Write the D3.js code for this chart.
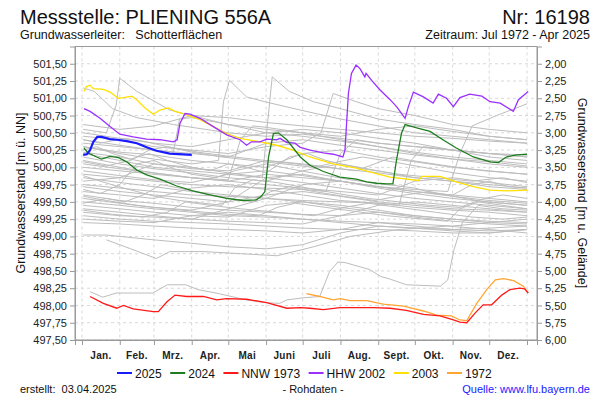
<!DOCTYPE html>
<html><head><meta charset="utf-8">
<script src="https://cdn.jsdelivr.net/npm/d3@7"></script>
<style>body{margin:0;background:#fff} svg{font-family:"Liberation Sans",Arial,sans-serif}</style>
</head><body><svg id="c" width="600" height="400"></svg>
<script>
// ---------- DATA ----------
const monthLabels = ["Jan.","Feb.","Mrz.","Apr.","Mai","Juni","Juli","Aug.","Sept.","Okt.","Nov.","Dez."];
const monthStartDays = [0,31,59,90,120,151,181,212,243,273,304,334,365];
const leftTicks = [497.5,497.75,498,498.25,498.5,498.75,499,499.25,499.5,499.75,500,500.25,500.5,500.75,501,501.25,501.5];
const rightTicks = [2,2.25,2.5,2.75,3,3.25,3.5,3.75,4,4.25,4.5,4.75,5,5.25,5.5,5.75,6];
const groundLevel = 503.5;

const days2025 = [1,4,6.6,9.3,12.5,16,23,28.5,36.7,45,53,61,72,90];
const values2025 = [500.18,500.19,500.25,500.37,500.44,500.44,500.41,500.40,500.38,500.35,500.29,500.24,500.20,500.18];

const days2024 = [1.6,5,12,16,23,30,36.7,45,53,64,77.7,91,105,118.7,132,143,147,150,153,157,161,168,179,187,198,211.6,225,233.5,241.7,250,255,258,262,265,274.6,285.5,296,307,321,335,341.5,348,356.6,365];
const values2024 = [500.28,500.21,500.15,500.12,500.16,500.14,500.08,499.96,499.89,499.83,499.73,499.66,499.60,499.55,499.52,499.53,499.58,499.65,500.15,500.49,500.50,500.40,500.15,500.03,499.94,499.86,499.83,499.79,499.77,499.76,499.76,500.11,500.49,500.62,500.57,500.52,500.40,500.28,500.15,500.08,500.07,500.15,500.18,500.19];

const days1973 = [6.6,17.5,28.5,34,42,58.5,62.6,69.5,76.3,85.9,99.5,110.5,118.7,135,151.5,168,179,187,198,211.6,225,239,252.7,266,280,293.7,304.6,310,315.6,322.4,329,336,344.3,351,359,363,366];
const values1973 = [498.13,498.03,497.96,498.00,497.95,497.91,497.91,498.05,498.15,498.13,498.13,498.08,498.10,498.09,498.04,497.96,497.97,497.96,497.94,497.97,497.97,497.97,497.96,497.93,497.87,497.85,497.79,497.76,497.75,497.89,498.01,498.01,498.15,498.23,498.25,498.24,498.18];

const days2002 = [1.6,6.6,14.8,23,31,42,53,64,75,78,80.4,84.5,88.6,96.8,107.7,118.7,129.6,135,139,146,151.5,159.7,162.4,168,174.7,179,187,198,206,214,215.7,218.5,221,224.8,228,232,233,237.6,244.5,252.7,258,265,267.7,271.8,280,288,292.3,299,304.6,310,318,328,334.7,343,353.8,358,366];
const values2002 = [500.85,500.81,500.71,500.59,500.48,500.44,500.41,500.40,500.37,500.40,500.64,500.78,500.77,500.71,500.59,500.47,500.40,500.32,500.37,500.37,500.41,500.40,500.42,500.36,500.35,500.29,500.25,500.21,500.19,500.15,500.25,501.07,501.36,501.48,501.43,501.31,501.36,501.26,501.12,500.98,500.88,500.71,500.88,501.09,501.02,500.93,501.06,501.00,500.88,501.01,501.06,501.03,500.95,500.93,500.81,500.98,501.10];

const days2003 = [1.6,3.8,6.6,9.3,17.5,23,29.8,33.9,40.8,44.9,51.7,58.5,64,70.8,76.3,85.9,96.8,107.7,118.7,129.6,146,159.7,173,187,206,225,239,252.7,276,278.7,293.7,307,321,334.7,348,366];
const values2003 = [501.10,501.17,501.19,501.14,501.13,501.09,501.00,501.01,501.03,500.98,500.86,500.77,500.83,500.86,500.81,500.76,500.69,500.59,500.49,500.42,500.37,500.32,500.25,500.15,500.05,499.99,499.92,499.86,499.81,499.87,499.87,499.79,499.72,499.67,499.66,499.67];

const days1972 = [184,195,206,211.6,220,233.5,247,263.6,280,291,303,310,315.6,323.8,332,339,345.6,354,362,366];
const values1972 = [498.17,498.13,498.08,498.10,498.07,498.07,498.02,497.99,497.92,497.86,497.85,497.79,497.78,498.03,498.23,498.37,498.39,498.36,498.28,498.18];

// historic years (grey), [day, value] pairs
const historicYears = [
 [[1,501.15],[10,501.1],[25,500.85],[45,500.72],[75,500.62],[120,500.5],[151,500.45],[181,500.48],[212,500.42],[243,500.35],[273,500.3],[304,500.25],[334,500.2],[365,500.15]],
 [[1,500.55],[20,500.5],[28,500.9],[31,501.29],[45,501.1],[72,500.83],[90,500.75],[120,500.62],[151,500.5],[181,500.55],[212,500.5],[243,500.42],[273,500.35],[304,500.25],[334,500.15],[365,500.1]],
 [[1,500.3],[31,500.2],[59,500.12],[90,500.05],[112,500.1],[116,500.95],[121,501.26],[135,501.02],[150,500.95],[179,500.83],[212,500.7],[243,500.6],[273,500.5],[304,500.45],[334,500.4],[365,500.35]],
 [[1,500.2],[31,500.1],[59,500.0],[90,499.95],[120,499.9],[148,499.85],[152,500.6],[156,501.31],[170,501.1],[190,500.95],[212,500.85],[243,500.7],[273,500.62],[304,500.55],[334,500.45],[365,500.4]],
 [[1,500.45],[31,500.4],[59,500.3],[90,500.25],[120,500.2],[151,500.3],[181,500.35],[196,500.5],[206,501.07],[225,500.95],[243,500.85],[273,500.75],[304,500.62],[334,500.55],[365,500.5]],
 [[1,500.1],[31,500.0],[59,499.92],[90,499.85],[120,499.8],[151,499.9],[181,499.85],[212,499.8],[243,499.72],[273,499.68],[300,499.65],[310,500.2],[320,500.6],[340,500.75],[365,500.92]],
 [[1,500.62],[31,500.55],[59,500.6],[90,500.75],[120,500.72],[151,500.65],[181,500.6],[212,500.55],[243,500.5],[273,500.45],[304,500.42],[334,500.38],[365,500.35]],
 [[1,500.35],[31,500.3],[59,500.25],[75,500.22],[80,500.7],[90,500.72],[120,500.62],[151,500.55],[181,500.5],[212,500.45],[243,500.55],[273,500.6],[304,500.52],[334,500.45],[365,500.4]],
 [[1,500.0],[31,499.95],[59,499.9],[90,499.85],[120,499.82],[130,500.4],[140,500.6],[151,500.58],[181,500.5],[212,500.4],[243,500.3],[273,500.2],[304,500.12],[334,500.05],[365,500.0]],
 [[1,499.9],[31,499.85],[59,499.8],[90,499.75],[120,499.72],[151,499.7],[181,499.68],[200,499.65],[212,500.2],[225,500.4],[243,500.35],[273,500.3],[304,500.25],[334,500.2],[365,500.15]],
 [[1,499.75],[31,499.7],[59,499.65],[90,499.6],[120,499.58],[151,499.55],[181,499.52],[212,499.5],[243,499.48],[260,499.45],[270,500.1],[280,500.3],[304,500.25],[334,500.2],[365,500.18]],
 [[1,500.5],[31,500.42],[59,500.35],[90,500.3],[120,500.4],[151,500.5],[181,500.45],[212,500.38],[243,500.3],[273,500.22],[304,500.15],[334,500.1],[365,500.05]],
 [[1,500.4],[31,500.32],[59,500.25],[90,500.2],[120,500.15],[151,500.35],[181,500.4],[212,500.32],[243,500.25],[273,500.18],[304,500.12],[334,500.08],[365,500.02]],
 [[1,500.3],[31,500.22],[59,500.18],[90,500.1],[120,500.05],[151,500.0],[181,500.2],[212,500.25],[243,500.15],[273,500.08],[304,500.0],[334,499.95],[365,499.9]],
 [[1,500.22],[31,500.15],[59,500.05],[90,499.98],[120,499.95],[151,500.1],[181,500.05],[212,499.98],[243,499.92],[273,499.85],[304,499.8],[334,499.75],[365,499.7]],
 [[1,500.15],[31,500.05],[59,499.98],[90,499.92],[120,499.85],[151,499.8],[181,499.95],[212,500.05],[243,499.95],[273,499.85],[304,499.8],[334,499.72],[365,499.68]],
 [[1,500.05],[31,499.98],[59,499.92],[90,499.85],[120,499.8],[151,499.75],[181,499.7],[212,499.65],[243,499.6],[273,499.8],[304,499.85],[334,499.78],[365,499.72]],
 [[1,499.95],[31,499.88],[59,499.82],[90,499.78],[120,499.9],[151,499.95],[181,499.88],[212,499.8],[243,499.72],[273,499.65],[304,499.6],[334,499.55],[365,499.5]],
 [[1,499.85],[31,499.78],[59,499.72],[90,499.65],[120,499.6],[151,499.55],[181,499.75],[212,499.8],[243,499.72],[273,499.65],[304,499.58],[334,499.52],[365,499.48]],
 [[1,499.8],[31,499.85],[59,500.05],[90,500.0],[120,499.92],[151,499.85],[181,499.78],[212,499.7],[243,499.62],[273,499.55],[304,499.5],[334,499.45],[365,499.4]],
 [[1,499.72],[31,499.65],[59,499.6],[90,499.55],[120,499.5],[151,499.6],[181,499.65],[212,499.58],[243,499.5],[273,499.45],[304,499.4],[334,499.38],[365,499.35]],
 [[1,499.65],[31,499.6],[59,499.55],[90,499.7],[120,499.75],[151,499.68],[181,499.6],[212,499.52],[243,499.48],[273,499.42],[304,499.38],[334,499.35],[365,499.3]],
 [[1,499.6],[31,499.52],[59,499.48],[90,499.42],[120,499.38],[151,499.35],[181,499.32],[212,499.3],[243,499.45],[273,499.5],[304,499.45],[334,499.4],[365,499.35]],
 [[1,499.55],[31,499.48],[59,499.42],[90,499.38],[120,499.5],[151,499.85],[181,499.9],[212,499.8],[243,499.7],[273,499.62],[304,499.55],[334,499.5],[365,499.45]],
 [[1,499.5],[31,499.45],[59,499.4],[90,499.35],[120,499.3],[151,499.28],[181,499.25],[212,499.22],[243,499.2],[273,499.18],[304,499.15],[334,499.2],[365,499.25]],
 [[1,499.45],[31,499.4],[59,499.35],[90,499.3],[120,499.28],[151,499.45],[181,499.5],[212,499.42],[243,499.35],[273,499.28],[304,499.22],[334,499.18],[365,499.15]],
 [[1,499.4],[31,499.35],[59,499.3],[90,499.25],[120,499.22],[151,499.2],[181,499.18],[212,499.3],[243,499.35],[273,499.3],[304,499.25],[334,499.2],[365,499.18]],
 [[1,499.35],[31,499.3],[59,499.28],[90,499.25],[120,499.4],[151,499.55],[181,499.5],[212,499.45],[243,499.38],[273,499.3],[304,499.25],[334,499.22],[365,499.2]],
 [[1,499.3],[31,499.25],[59,499.22],[90,499.2],[120,499.18],[151,499.15],[181,499.12],[212,499.1],[243,499.1],[273,499.08],[304,499.05],[334,499.05],[365,499.1]],
 [[1,499.25],[31,499.22],[59,499.2],[90,499.3],[120,499.35],[151,499.3],[181,499.25],[212,499.2],[243,499.15],[273,499.12],[304,499.1],[334,499.12],[365,499.15]],
 [[1,499.2],[31,499.18],[59,499.15],[90,499.12],[120,499.1],[151,499.08],[181,499.05],[212,499.1],[243,499.2],[273,499.15],[304,499.1],[334,499.08],[365,499.1]],
 [[1,499.02],[20,499.02],[31,499.0],[59,498.95],[90,498.9],[120,498.85],[151,498.82],[181,498.88],[212,499.05],[243,499.15],[273,499.12],[304,499.08],[334,499.05],[365,499.1]],
 [[20,498.95],[40,498.82],[61,498.68],[72,498.78],[100,498.78],[130,498.75],[160,498.72],[190,498.85],[220,499.0],[260,499.1],[300,499.15],[334,499.1],[365,499.05]],
 [[6.6,498.2],[17,498.12],[28,498.18],[58,498.18],[70,498.3],[85,498.3],[95,498.23],[110,498.18],[135,498.08],[151,498.04],[162,498.03],[168,498.08],[181,498.11],[195,498.13],[203,498.49],[210,498.63],[216,498.62],[228,498.56],[236,498.52],[245,498.42],[253,498.38],[266,498.3],[294,498.28],[300,498.37],[305,498.8],[312,499.2],[325,499.45],[345,499.4],[365,499.38]],
 [[1,499.68],[15,499.62],[31,499.75],[45,500.05],[59,500.1],[75,499.98],[90,499.9],[110,499.85],[125,499.95],[151,500.05],[170,499.98],[195,499.9],[220,499.82],[250,499.75],[273,499.7],[290,499.62],[304,499.6],[320,499.75],[334,499.8],[350,499.72],[365,499.7]],
 [[1,500.25],[12,500.3],[25,500.2],[40,500.12],[55,500.2],[70,500.1],[90,500.0],[105,499.95],[120,500.05],[135,500.0],[151,499.92],[170,500.15],[185,500.2],[200,500.1],[230,499.98],[260,499.9],[290,499.85],[320,499.8],[345,499.85],[365,499.78]],
 [[1,499.48],[20,499.55],[35,499.5],[50,499.6],[65,499.75],[80,499.7],[100,499.62],[120,499.55],[140,499.5],[155,499.65],[170,499.72],[190,499.65],[215,499.58],[240,499.52],[265,499.6],[285,499.65],[305,499.58],[330,499.5],[365,499.45]],
 [[1,499.88],[15,499.8],[30,499.72],[45,499.65],[60,499.58],[80,499.52],[100,499.48],[115,499.45],[125,499.7],[140,499.82],[160,499.78],[185,499.7],[210,499.62],[235,499.55],[260,499.5],[285,499.45],[310,499.42],[330,499.55],[345,499.6],[365,499.55]],
 [[1,500.08],[20,500.02],[40,500.1],[55,500.25],[70,500.3],[90,500.22],[115,500.15],[140,500.1],[165,500.05],[190,500.0],[210,500.08],[230,500.15],[255,500.08],[280,500.0],[305,499.92],[335,499.85],[365,499.8]],
 [[1,499.38],[25,499.32],[50,499.28],[70,499.35],[85,499.5],[105,499.45],[130,499.4],[160,499.35],[190,499.3],[215,499.42],[235,499.48],[260,499.42],[290,499.35],[320,499.28],[345,499.25],[365,499.28]],
 [[1,500.4],[15,500.35],[35,500.42],[50,500.38],[70,500.3],[95,500.22],[125,500.15],[150,500.1],[175,500.05],[200,500.0],[225,499.95],[240,500.05],[255,500.15],[270,500.1],[300,500.02],[330,499.95],[365,499.9]],
 [[1,499.58],[20,499.52],[45,499.45],[70,499.4],[95,499.36],[120,499.32],[145,499.3],[160,499.42],[175,499.48],[200,499.42],[225,499.36],[250,499.3],[280,499.25],[300,499.22],[310,499.4],[325,499.5],[345,499.45],[365,499.4]]
];

// ---------- DRAW ----------
const svg = d3.select("#c");
const x = d3.scaleLinear().domain([-5.74, 373.2]).range([75, 537]);
const y = d3.scaleLinear().domain([497.5, 501.75]).range([340, 46.5]);
const yR = d3.scaleLinear().domain([groundLevel-497.5, groundLevel-501.75]).range([340, 46.5]);
const fmt = v => d3.format(".2f")(v).replace(".", ",");

// grid
const grid = svg.append("g");
grid.selectAll("line.h").data(leftTicks).join("line")
  .attr("x1", 75).attr("x2", 537).attr("y1", d => y(d)).attr("y2", d => y(d))
  .attr("stroke", "#d8d8d8").attr("stroke-dasharray", "3,3");
grid.selectAll("line.v").data(monthStartDays).join("line")
  .attr("x1", d => x(d)).attr("x2", d => x(d)).attr("y1", 46.5).attr("y2", 340)
  .attr("stroke", "#d8d8d8").attr("stroke-dasharray", "3,3");

const line = d3.line().x(d => x(d[0])).y(d => y(d[1]));
const plot = svg.append("g");
plot.selectAll("path.g").data(historicYears).join("path")
  .attr("d", line).attr("fill", "none").attr("stroke", "#bdbdbd").attr("stroke-width", 1);

const zip = (a, b) => a.map((d, i) => [d, b[i]]);
const series = [
  {name:"2025", days:days2025, values:values2025, color:"#1a1aff", w:2.2},
  {name:"2024", days:days2024, values:values2024, color:"#1e7d1e", w:1.3},
  {name:"NNW 1973", days:days1973, values:values1973, color:"#ff1a1a", w:1.3},
  {name:"HHW 2002", days:days2002, values:values2002, color:"#9b30ff", w:1.3},
  {name:"2003", days:days2003, values:values2003, color:"#ffe000", w:1.3},
  {name:"1972", days:days1972, values:values1972, color:"#ffa533", w:1.3}
];
series.slice().reverse().forEach(s => {
  plot.append("path").datum(zip(s.days, s.values)).attr("d", line)
    .attr("fill", "none").attr("stroke", s.color).attr("stroke-width", s.w);
});

// frame
svg.append("rect").attr("x", 75).attr("y", 46.5).attr("width", 462).attr("height", 293.5)
  .attr("fill", "none").attr("stroke", "#9a9a9a");

// axes
const axL = svg.append("g").attr("transform", "translate(75,0)")
  .call(d3.axisLeft(y).tickValues(leftTicks).tickFormat(fmt).tickSize(5).tickPadding(3));
const axR = svg.append("g").attr("transform", "translate(537,0)")
  .call(d3.axisRight(yR).tickValues(rightTicks).tickFormat(fmt).tickSize(5).tickPadding(3));
const axB = svg.append("g").attr("transform", "translate(0,340)")
  .call(d3.axisBottom(x).tickValues(monthStartDays).tickFormat("").tickSize(5));
[axL, axR, axB].forEach(a => {
  a.select(".domain").attr("stroke", "#9a9a9a");
  a.selectAll(".tick line").attr("stroke", "#9a9a9a");
  a.selectAll("text").attr("fill", "#222").style("font-size", "11px").style("font-family", '"Liberation Sans",Arial,sans-serif');
});

svg.append("g").selectAll("text").data(monthLabels).join("text")
  .attr("x", (d, i) => x((monthStartDays[i] + monthStartDays[i+1]) / 2))
  .attr("y", 359).attr("text-anchor", "middle")
  .style("font-size", "10px").style("font-weight", "bold").attr("fill", "#222")
  .style("letter-spacing", "0.3px").text(d => d);

// titles
svg.append("text").attr("x", 20).attr("y", 24).style("font-size", "20px").attr("fill", "#111").text("Messstelle: PLIENING 556A");
svg.append("text").attr("x", 590).attr("y", 24).attr("text-anchor", "end").style("font-size", "20px").attr("fill", "#111").text("Nr: 16198");
svg.append("text").attr("x", 20).attr("y", 39).style("font-size", "12.5px").attr("fill", "#111").attr("xml:space", "preserve").text("Grundwasserleiter:   Schotterflächen");
svg.append("text").attr("x", 590).attr("y", 39).attr("text-anchor", "end").style("font-size", "12.5px").attr("fill", "#111").text("Zeitraum: Jul 1972 - Apr 2025");

svg.append("text").attr("transform", "translate(25,193) rotate(-90)").attr("text-anchor", "middle")
  .style("font-size", "12.5px").attr("fill", "#111").text("Grundwasserstand [m ü. NN]");
svg.append("text").attr("transform", "translate(578,193) rotate(90)").attr("text-anchor", "middle")
  .style("font-size", "12.5px").attr("fill", "#111").text("Grundwasserstand [m u. Gelände]");

// legend
const lg = svg.append("g");
let lx = 117;
series.forEach(s => {
  lg.append("line").attr("x1", lx).attr("x2", lx + 15).attr("y1", 373).attr("y2", 373)
    .attr("stroke", s.color).attr("stroke-width", 2);
  const t = lg.append("text").attr("x", lx + 18).attr("y", 377.5).style("font-size", "12px").attr("fill", "#111").text(s.name);
  lx += 18 + t.node().getComputedTextLength() + 8.5;
});

// footer
svg.append("text").attr("x", 20).attr("y", 393).style("font-size", "11px").attr("fill", "#111").attr("xml:space", "preserve").text("erstellt:  03.04.2025");
svg.append("text").attr("x", 313).attr("y", 393).attr("text-anchor", "middle").style("font-size", "11px").attr("fill", "#111").text("- Rohdaten -");
svg.append("text").attr("x", 590).attr("y", 393).attr("text-anchor", "end").style("font-size", "11px").attr("fill", "#1a1aff").text("Quelle: www.lfu.bayern.de");
</script></body></html>
